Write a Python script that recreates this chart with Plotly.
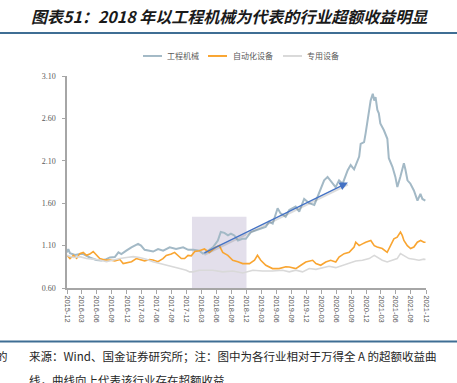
import plotly.graph_objects as go

# ---------------- data ----------------
jx_dates = ["2015-12-31","2016-01-08","2016-01-18","2016-02-18","2016-03-18","2016-04-09","2016-05-18",
            "2016-06-27","2016-07-27","2016-08-27","2016-09-18","2016-10-18","2016-11-09","2016-11-27",
            "2016-12-27","2017-01-27","2017-03-09","2017-03-27","2017-04-18","2017-05-09","2017-06-09",
            "2017-07-09","2017-08-09","2017-09-18","2017-10-27","2017-12-09","2018-01-09","2018-02-09",
            "2018-03-18","2018-04-09","2018-04-27","2018-06-09","2018-07-09","2018-07-27","2018-08-18",
            "2018-09-09","2018-09-27","2018-10-18","2018-11-09","2018-12-06","2018-12-27","2019-01-27",
            "2019-02-26","2019-03-27","2019-04-27","2019-05-18","2019-06-09","2019-07-09","2019-07-27",
            "2019-08-27","2019-09-18","2019-10-27","2019-11-18","2019-12-18","2020-01-18","2020-02-18",
            "2020-03-18","2020-04-18","2020-05-09","2020-06-09","2020-06-27","2020-07-18","2020-08-09",
            "2020-09-09","2020-09-27","2020-10-18","2020-11-09","2020-11-18","2020-11-27","2020-12-18",
            "2020-12-27","2021-01-15","2021-01-27","2021-02-09","2021-02-18","2021-02-26","2021-03-09",
            "2021-03-18","2021-03-27","2021-04-18","2021-05-09","2021-05-18","2021-06-09","2021-06-27",
            "2021-07-09","2021-07-27","2021-08-18","2021-08-27","2021-09-09","2021-09-27","2021-10-18",
            "2021-11-09","2021-11-27","2021-12-09","2021-12-27"]
jx_vals = [1.02,1.06,1.01,0.99,1.00,1.00,0.96,
           0.93,0.925,0.94,0.96,0.965,1.02,1.00,
           1.04,1.08,1.12,1.10,1.05,1.04,1.03,
           1.06,1.04,1.08,1.06,1.08,1.05,1.05,
           1.04,1.005,1.02,1.08,1.16,1.26,1.25,
           1.22,1.24,1.22,1.16,1.18,1.18,1.26,
           1.28,1.30,1.32,1.38,1.36,1.54,1.48,
           1.44,1.52,1.56,1.50,1.65,1.60,1.58,
           1.71,1.87,1.91,1.83,1.79,1.87,1.83,
           1.99,2.05,2.00,2.10,2.15,2.30,2.32,
           2.42,2.66,2.81,2.89,2.81,2.85,2.70,
           2.66,2.54,2.46,2.36,2.13,2.03,1.91,
           1.79,1.91,2.07,2.00,1.87,1.83,1.75,
           1.63,1.71,1.65,1.63]

zd_dates = ["2015-12-31","2016-01-18","2016-02-08","2016-02-28","2016-03-18","2016-04-08","2016-04-28",
            "2016-05-18","2016-06-08","2016-06-28","2016-07-18","2016-08-18","2016-09-18","2016-10-18",
            "2016-11-18","2016-12-08","2016-12-28","2017-01-28","2017-02-26","2017-03-18","2017-04-18",
            "2017-05-18","2017-06-08","2017-07-08","2017-08-08","2017-08-28","2017-09-28","2017-10-18",
            "2017-11-08","2017-11-28","2017-12-18","2018-01-08","2018-01-28","2018-02-18","2018-03-18",
            "2018-04-18","2018-05-18","2018-06-28","2018-07-18","2018-08-08","2018-09-08","2018-10-08",
            "2018-11-08","2018-12-08","2019-01-18","2019-02-18","2019-03-08","2019-03-28","2019-04-28",
            "2019-06-08","2019-07-18","2019-08-28","2019-09-18","2019-10-28","2019-11-28","2019-12-28",
            "2020-02-08","2020-02-28","2020-03-28","2020-04-28","2020-05-28","2020-06-28","2020-07-18",
            "2020-08-18","2020-09-18","2020-10-18","2020-10-28","2020-11-18","2020-12-08","2020-12-28",
            "2021-01-28","2021-02-18","2021-03-08","2021-04-08","2021-05-08","2021-05-28","2021-06-18",
            "2021-07-08","2021-07-28","2021-08-08","2021-08-18","2021-09-08","2021-09-28","2021-10-18",
            "2021-11-08","2021-11-28","2021-12-18","2021-12-28"]
zd_vals = [0.985,0.947,0.985,0.95,1.005,1.02,0.985,
           1.00,1.03,0.985,0.947,0.93,0.93,0.92,
           0.935,0.888,0.90,0.91,0.947,0.935,0.92,
           0.935,0.93,0.91,0.947,0.985,1.00,1.02,
           0.985,0.947,0.947,0.985,0.98,1.03,1.04,
           1.06,1.02,1.083,1.10,1.02,0.985,0.927,
           0.91,0.888,0.888,0.927,0.985,0.927,0.868,
           0.829,0.829,0.85,0.848,0.829,0.868,0.907,
           0.927,0.888,0.868,0.907,0.927,0.907,0.966,
           1.005,1.02,1.083,1.14,1.10,1.12,1.14,
           1.16,1.10,1.083,1.065,1.02,1.10,1.18,
           1.20,1.26,1.22,1.16,1.10,1.065,1.083,
           1.14,1.16,1.14,1.14]

zy_dates = ["2015-12-31","2016-02-08","2016-03-18","2016-04-28","2016-06-08","2016-07-18","2016-08-28",
            "2016-10-08","2016-11-18","2016-12-28","2017-02-08","2017-03-18","2017-04-28","2017-06-08",
            "2017-07-18","2017-08-28","2017-10-08","2017-11-18","2017-12-28","2018-01-18","2018-02-08",
            "2018-03-18","2018-06-08","2018-08-08","2018-10-08","2018-12-08","2019-02-08","2019-04-08",
            "2019-06-08","2019-08-08","2019-09-18","2019-10-28","2019-12-08","2020-01-18","2020-02-28",
            "2020-04-08","2020-05-18","2020-06-28","2020-08-08","2020-09-18","2020-10-28","2020-12-08",
            "2021-01-18","2021-02-18","2021-03-08","2021-04-08","2021-05-08","2021-06-08","2021-07-08",
            "2021-07-28","2021-08-18","2021-09-18","2021-10-18","2021-11-18","2021-12-18","2021-12-28"]
zy_vals = [0.985,0.96,0.97,0.947,0.94,0.93,0.91,
           0.93,0.947,0.96,0.97,0.96,0.94,0.91,
           0.888,0.868,0.848,0.829,0.81,0.79,0.79,
           0.81,0.81,0.79,0.80,0.777,0.81,0.80,
           0.80,0.81,0.79,0.81,0.79,0.829,0.82,
           0.84,0.856,0.84,0.868,0.895,0.918,0.927,
           0.947,0.985,0.966,0.927,0.907,0.927,0.947,
           1.005,0.985,0.947,0.94,0.927,0.94,0.935]

series_names = ["工程机械", "自动化设备", "专用设备"]
series_colors = ["#A3B9C6", "#F9A531", "#D9D9D9"]

tick_vals = ["2015-12-31","2016-03-31","2016-06-30","2016-09-30","2016-12-31","2017-03-31","2017-06-30",
             "2017-09-30","2017-12-31","2018-03-31","2018-06-30","2018-09-30","2018-12-31","2019-03-31",
             "2019-06-30","2019-09-30","2019-12-31","2020-03-31","2020-06-30","2020-09-30","2020-12-31",
             "2021-03-31","2021-06-30","2021-09-30","2021-12-31"]
tick_text = [d[:7] for d in tick_vals]
y_ticks = [0.60, 1.10, 1.60, 2.10, 2.60, 3.10]

shade_start, shade_end, shade_top = "2018-02-01", "2018-12-31", 1.44
arrow_from = ("2018-04-09", 1.006)
arrow_to = ("2020-09-10", 1.843)

title_text = "图表51：2018 年以工程机械为代表的行业超额收益明显"
source_line1 = "来源：Wind、国金证券研究所；注：图中为各行业相对于万得全 A 的超额收益曲"
source_line2 = "线，曲线向上代表该行业存在超额收益"

# ---------------- layout geometry ----------------
W, H = 457, 383
L, R, T, B = 67, 426, 76, 287.7


def px(x):
    return (x - L) / (R - L)


def py(y):
    return (B - y) / (B - T)


fig = go.Figure()
for d, v, n, c, w in [(jx_dates, jx_vals, series_names[0], series_colors[0], 2.0),
                      (zd_dates, zd_vals, series_names[1], series_colors[1], 1.6),
                      (zy_dates, zy_vals, series_names[2], series_colors[2], 1.6)]:
    fig.add_trace(go.Scatter(x=d, y=v, mode="lines", name=n,
                             line=dict(color=c, width=w), showlegend=False))

# shaded period
fig.add_shape(type="rect", xref="x", yref="y", x0=shade_start, x1=shade_end, y0=0.6, y1=shade_top,
              fillcolor="#E3DFEB", line=dict(width=0), layer="below")

# trend arrow (faint shadow + blue arrow)
fig.add_annotation(x=arrow_to[0], y=arrow_to[1] - 0.025, ax=arrow_from[0], ay=arrow_from[1] - 0.025,
                   xref="x", yref="y", axref="x", ayref="y", text="", showarrow=True,
                   arrowhead=0, arrowwidth=2, arrowcolor="rgba(120,120,120,0.25)")
fig.add_annotation(x=arrow_to[0], y=arrow_to[1], ax=arrow_from[0], ay=arrow_from[1],
                   xref="x", yref="y", axref="x", ayref="y", text="", showarrow=True,
                   arrowhead=2, arrowsize=1.2, arrowwidth=1.4, arrowcolor="#4472C4")

# manual legend
leg_font = dict(family="Noto Sans CJK SC", size=8, color="#595959")
for (x0, x1, tx), n, c in zip([(143, 162, 165), (208, 227, 231), (283, 302, 305)], series_names, series_colors):
    fig.add_shape(type="line", xref="paper", yref="paper", x0=px(x0), x1=px(x1), y0=py(56), y1=py(56),
                  line=dict(color=c, width=2))
    fig.add_annotation(xref="paper", yref="paper", x=px(tx), y=py(56), text=n, showarrow=False,
                       xanchor="left", yanchor="middle", font=leg_font)

# title & rules
fig.add_annotation(xref="paper", yref="paper", x=px(29), y=py(16), text="<b><i>" + title_text + "</i></b>",
                   showarrow=False, xanchor="left", yanchor="middle",
                   font=dict(family="Noto Sans CJK SC", size=16, color="#1a1a1a"))
for yy in (33, 341):
    fig.add_shape(type="line", xref="paper", yref="paper", x0=px(0), x1=px(W), y0=py(yy), y1=py(yy),
                  line=dict(color="#3F6E94", width=2))

src_font = dict(family="Noto Sans CJK SC", size=11.5, color="#262626")
fig.add_annotation(xref="paper", yref="paper", x=px(27), y=py(356), text=source_line1, showarrow=False,
                   xanchor="left", yanchor="middle", font=src_font)
fig.add_annotation(xref="paper", yref="paper", x=px(27), y=py(380), text=source_line2, showarrow=False,
                   xanchor="left", yanchor="middle", font=src_font)
fig.add_annotation(xref="paper", yref="paper", x=px(10), y=py(356), text="的", showarrow=False,
                   xanchor="right", yanchor="middle", font=src_font)

fig.update_layout(
    width=W, height=H,
    margin=dict(l=L, r=W - R, t=T, b=H - B, pad=0),
    paper_bgcolor="white", plot_bgcolor="white",
    showlegend=False,
    xaxis=dict(type="date", range=["2015-12-31", "2021-12-31"], tickvals=tick_vals, ticktext=tick_text,
               tickangle=90, tickfont=dict(family="Liberation Sans", size=7.5, color="#595959"),
               showgrid=False, zeroline=False, showline=True, linecolor="#A6A6A6", linewidth=1.5,
               ticks="outside", ticklen=4, tickcolor="#A6A6A6", tickwidth=1),
    yaxis=dict(range=[0.6, 3.1], tickvals=y_ticks, ticktext=["%.2f" % v for v in y_ticks],
               tickfont=dict(family="Liberation Serif", size=8, color="#595959"),
               showgrid=False, zeroline=False, showline=True, linecolor="#A6A6A6", linewidth=1.5,
               ticks="outside", ticklen=3, tickcolor="#A6A6A6", tickwidth=1, ticklabelstandoff=5),
)

fig.write_html("out.html", config={"displayModeBar": False},
               post_script="document.body.style.margin='0px';document.body.style.overflow='hidden';")
